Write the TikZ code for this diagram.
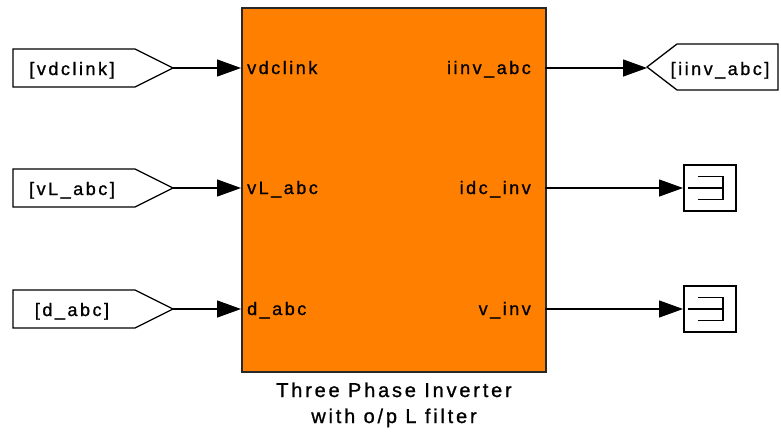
\documentclass[tikz,border=0pt]{standalone}
\usepackage{fontspec}
\setmainfont{Liberation Sans}
\newfontfamily\lblfont[LetterSpace=14,FakeBold=1]{Liberation Sans}
\newfontfamily\capfont[LetterSpace=14,FakeBold=1]{Liberation Sans}
\usetikzlibrary{arrows.meta}
\definecolor{simorange}{RGB}{255,128,0}
\definecolor{simedge}{RGB}{40,40,40}
\tikzset{
  lbl/.style={font=\lblfont\fontsize{18}{20}\selectfont, inner sep=0pt},
  caplbl/.style={font=\capfont\fontsize{20}{23}\selectfont, inner sep=0pt},
  sig/.style={line width=1.3pt, -{Triangle[length=24pt,width=17pt]}},
  gotoshape/.style={draw=black, line width=1.3pt, fill=white},
  termbox/.style={draw=black, line width=1.5pt, fill=white, minimum width=52pt, minimum height=46pt, inner sep=0pt},
}
\begin{document}
\begin{tikzpicture}[x=1pt,y=-1pt]
\useasboundingbox[fill=white] (0,0) rectangle (781,434);

% main block
\node[draw=simedge, fill=simorange, line width=1.8pt, minimum width=304pt, minimum height=364pt, inner sep=0pt, anchor=north west] (blk) at (241,7) {};
\coordinate (in1) at (241,68);
\coordinate (in2) at (241,188);
\coordinate (in3) at (241,309);
\coordinate (out1) at (545,68);
\coordinate (out2) at (545,188);
\coordinate (out3) at (545,309);

% port labels
\node[lbl, anchor=base west] (lin1) at (247,74) {vdclink};
\node[lbl, anchor=base west] (lin2) at (247,194) {vL\_abc};
\node[lbl, anchor=base west] (lin3) at (247,315) {d\_abc};
\node[lbl, anchor=base east] (lout1) at (531,74) {iinv\_abc};
\node[lbl, anchor=base east] (lout2) at (531,194) {idc\_inv};
\node[lbl, anchor=base east] (lout3) at (531,315) {v\_inv};

% caption
\node[caplbl, anchor=base] (cap1) at (394,397) {Three Phase Inverter};
\node[caplbl, anchor=base] (cap2) at (394,423) {with o/p L filter};

% from blocks (left)
\draw[gotoshape] (13,49) -- (135,49) -- (173,68) -- (135,87) -- (13,87) -- cycle;
\coordinate (f1) at (173,68);
\node[lbl, anchor=base] (f1t) at (72,75) {[vdclink]};
\draw[gotoshape] (13,169) -- (135,169) -- (173,188) -- (135,207) -- (13,207) -- cycle;
\coordinate (f2) at (173,188);
\node[lbl, anchor=base] (f2t) at (72,195) {[vL\_abc]};
\draw[gotoshape] (13,290) -- (135,290) -- (173,309) -- (135,328) -- (13,328) -- cycle;
\coordinate (f3) at (173,309);
\node[lbl, anchor=base] (f3t) at (72,316) {[d\_abc]};

\draw[sig] (f1) -- (in1);
\draw[sig] (f2) -- (in2);
\draw[sig] (f3) -- (in3);

% goto (right)
\draw[gotoshape] (647,67) -- (677,44) -- (778,44) -- (778,90) -- (677,90) -- cycle;
\coordinate (g1) at (647,68);
\node[lbl, anchor=base] (g1t) at (720,75) {[iinv\_abc]};
\draw[sig] (out1) -- (g1);

% terminators
\node[termbox, anchor=west] (t1) at (683,188) {};
\node[termbox, anchor=west] (t2) at (683,309) {};
\foreach \t in {t1,t2}{
  \draw[line width=1.4pt] ([xshift=5pt]\t.west) -- ([xshift=40pt]\t.west);
  \draw[line width=1.4pt] ([xshift=15pt,yshift=-11.5pt]\t.west) -| ([xshift=40pt,yshift=11.5pt]\t.west) -- ([xshift=15pt,yshift=11.5pt]\t.west);
}
\draw[sig] (out2) -- (t1.west);
\draw[sig] (out3) -- (t2.west);
\end{tikzpicture}
\end{document}
